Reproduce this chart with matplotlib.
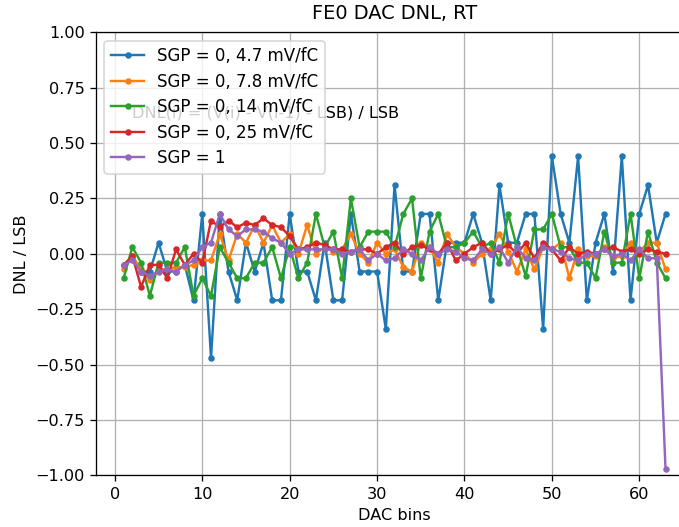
import matplotlib
matplotlib.use("Agg")
import matplotlib.pyplot as plt
import numpy as np

dac_bins = list(range(1, 64))

labels = ["SGP = 0, 4.7 mV/fC", "SGP = 0, 7.8 mV/fC", "SGP = 0, 14 mV/fC",
          "SGP = 0, 25 mV/fC", "SGP = 1"]

dnl_47 = [-0.05, -0.02, -0.08, -0.08, 0.05, -0.08, -0.08, -0.05, -0.21, 0.18,
          -0.47, 0.18, -0.08, -0.21, 0.05, -0.08, 0.05, -0.21, -0.21, 0.18,
          -0.08, -0.08, -0.21, 0.05, -0.21, -0.21, 0.18, -0.08, -0.08, -0.08,
          -0.34, 0.31, -0.08, -0.08, 0.18, 0.18, -0.21, 0.05, 0.05, 0.05,
          0.18, 0.05, -0.21, 0.31, 0.05, 0.05, 0.18, 0.18, -0.34, 0.44,
          0.18, 0.05, 0.44, -0.21, 0.05, 0.18, -0.08, 0.44, -0.21, 0.18,
          0.31, 0.05, 0.18]
dnl_78 = [-0.07, -0.01, -0.07, -0.12, -0.07, -0.07, -0.06, -0.06, -0.05, -0.03,
          -0.03, 0.09, -0.03, 0.09, 0.05, 0.13, 0.05, 0.13, 0.05, 0.09,
          0.00, 0.13, 0.00, 0.03, 0.01, 0.02, 0.09, 0.00, -0.04, 0.05,
          0.00, 0.02, -0.06, -0.08, 0.05, 0.03, -0.04, 0.09, 0.03, 0.00,
          -0.04, 0.00, 0.02, 0.09, 0.01, -0.08, 0.02, -0.07, 0.03, 0.02,
          0.05, -0.11, 0.02, -0.01, -0.01, 0.03, -0.02, -0.01, 0.05, 0.01,
          0.05, 0.05, -0.07]
dnl_14 = [-0.11, 0.03, -0.04, -0.19, -0.04, -0.04, -0.04, 0.03, -0.19, -0.11,
          -0.19, 0.03, -0.04, -0.11, -0.11, -0.04, -0.04, 0.03, -0.11, 0.03,
          -0.11, -0.04, 0.18, 0.03, 0.10, -0.11, 0.25, 0.03, 0.10, 0.10,
          0.10, 0.03, 0.18, 0.25, -0.11, 0.10, 0.18, 0.03, 0.03, 0.05,
          0.10, 0.03, 0.05, -0.04, 0.18, 0.03, -0.10, 0.11, 0.11, 0.18,
          0.03, 0.03, -0.04, -0.04, -0.11, 0.10, -0.04, -0.04, 0.18, -0.11,
          0.10, -0.04, -0.11]
dnl_25 = [-0.05, -0.01, -0.15, -0.05, -0.05, -0.11, 0.02, -0.05, 0.00, -0.04,
          0.15, 0.12, 0.15, 0.12, 0.14, 0.13, 0.16, 0.13, 0.12, 0.08,
          0.02, 0.03, 0.05, 0.04, 0.02, 0.02, 0.01, 0.02, 0.02, 0.00,
          0.03, 0.05, 0.00, 0.03, 0.04, 0.02, 0.00, 0.05, -0.03, 0.00,
          0.03, 0.05, 0.00, 0.02, 0.04, 0.00, 0.05, -0.02, 0.05, 0.02,
          -0.03, 0.03, 0.00, 0.01, 0.00, 0.02, 0.03, 0.01, 0.02, 0.00,
          0.02, 0.01, 0.00]
dnl_sgp1 = [-0.05, -0.03, -0.08, -0.10, -0.08, -0.07, -0.08, -0.05, -0.03, 0.03,
            0.05, 0.18, 0.11, 0.08, 0.11, 0.11, 0.10, 0.07, 0.05, 0.00,
            0.02, 0.02, 0.02, 0.02, 0.02, 0.00, 0.01, 0.02, -0.03, 0.00,
            -0.03, -0.02, 0.02, 0.00, -0.03, 0.03, 0.00, 0.02, 0.01, -0.02,
            -0.03, 0.02, 0.00, 0.03, -0.04, 0.03, -0.02, -0.03, 0.03, 0.02,
            0.01, -0.02, -0.03, 0.00, 0.00, 0.02, -0.01, 0.00, -0.03, 0.02,
            -0.02, -0.02, -0.97]

series = [dnl_47, dnl_78, dnl_14, dnl_25, dnl_sgp1]

dpi = 116
fig = plt.figure(figsize=(679 / dpi, 527 / dpi), dpi=dpi)
ax = fig.add_axes([96 / 679, 1 - 475.3 / 527, 596.6 / 679, 443.0 / 527])

for vals, lab in zip(series, labels):
    ax.plot(dac_bins, vals, marker='.', label=lab)

ax.set_ylim(-1.0, 1.0)
ax.set_xlim(-2.16, 66.1)
ax.grid(True)
ax.text(2, 0.615, "DNL(i) = (V(i) - V(i-1) - LSB) / LSB")
ax.legend(loc='upper left', labelspacing=0.45, fontsize=10.3)
ax.set_title("FE0 DAC DNL, RT", pad=8)
ax.set_xlabel("DAC bins")
ax.set_ylabel("DNL / LSB")

fig.savefig("out.png", dpi=dpi)
